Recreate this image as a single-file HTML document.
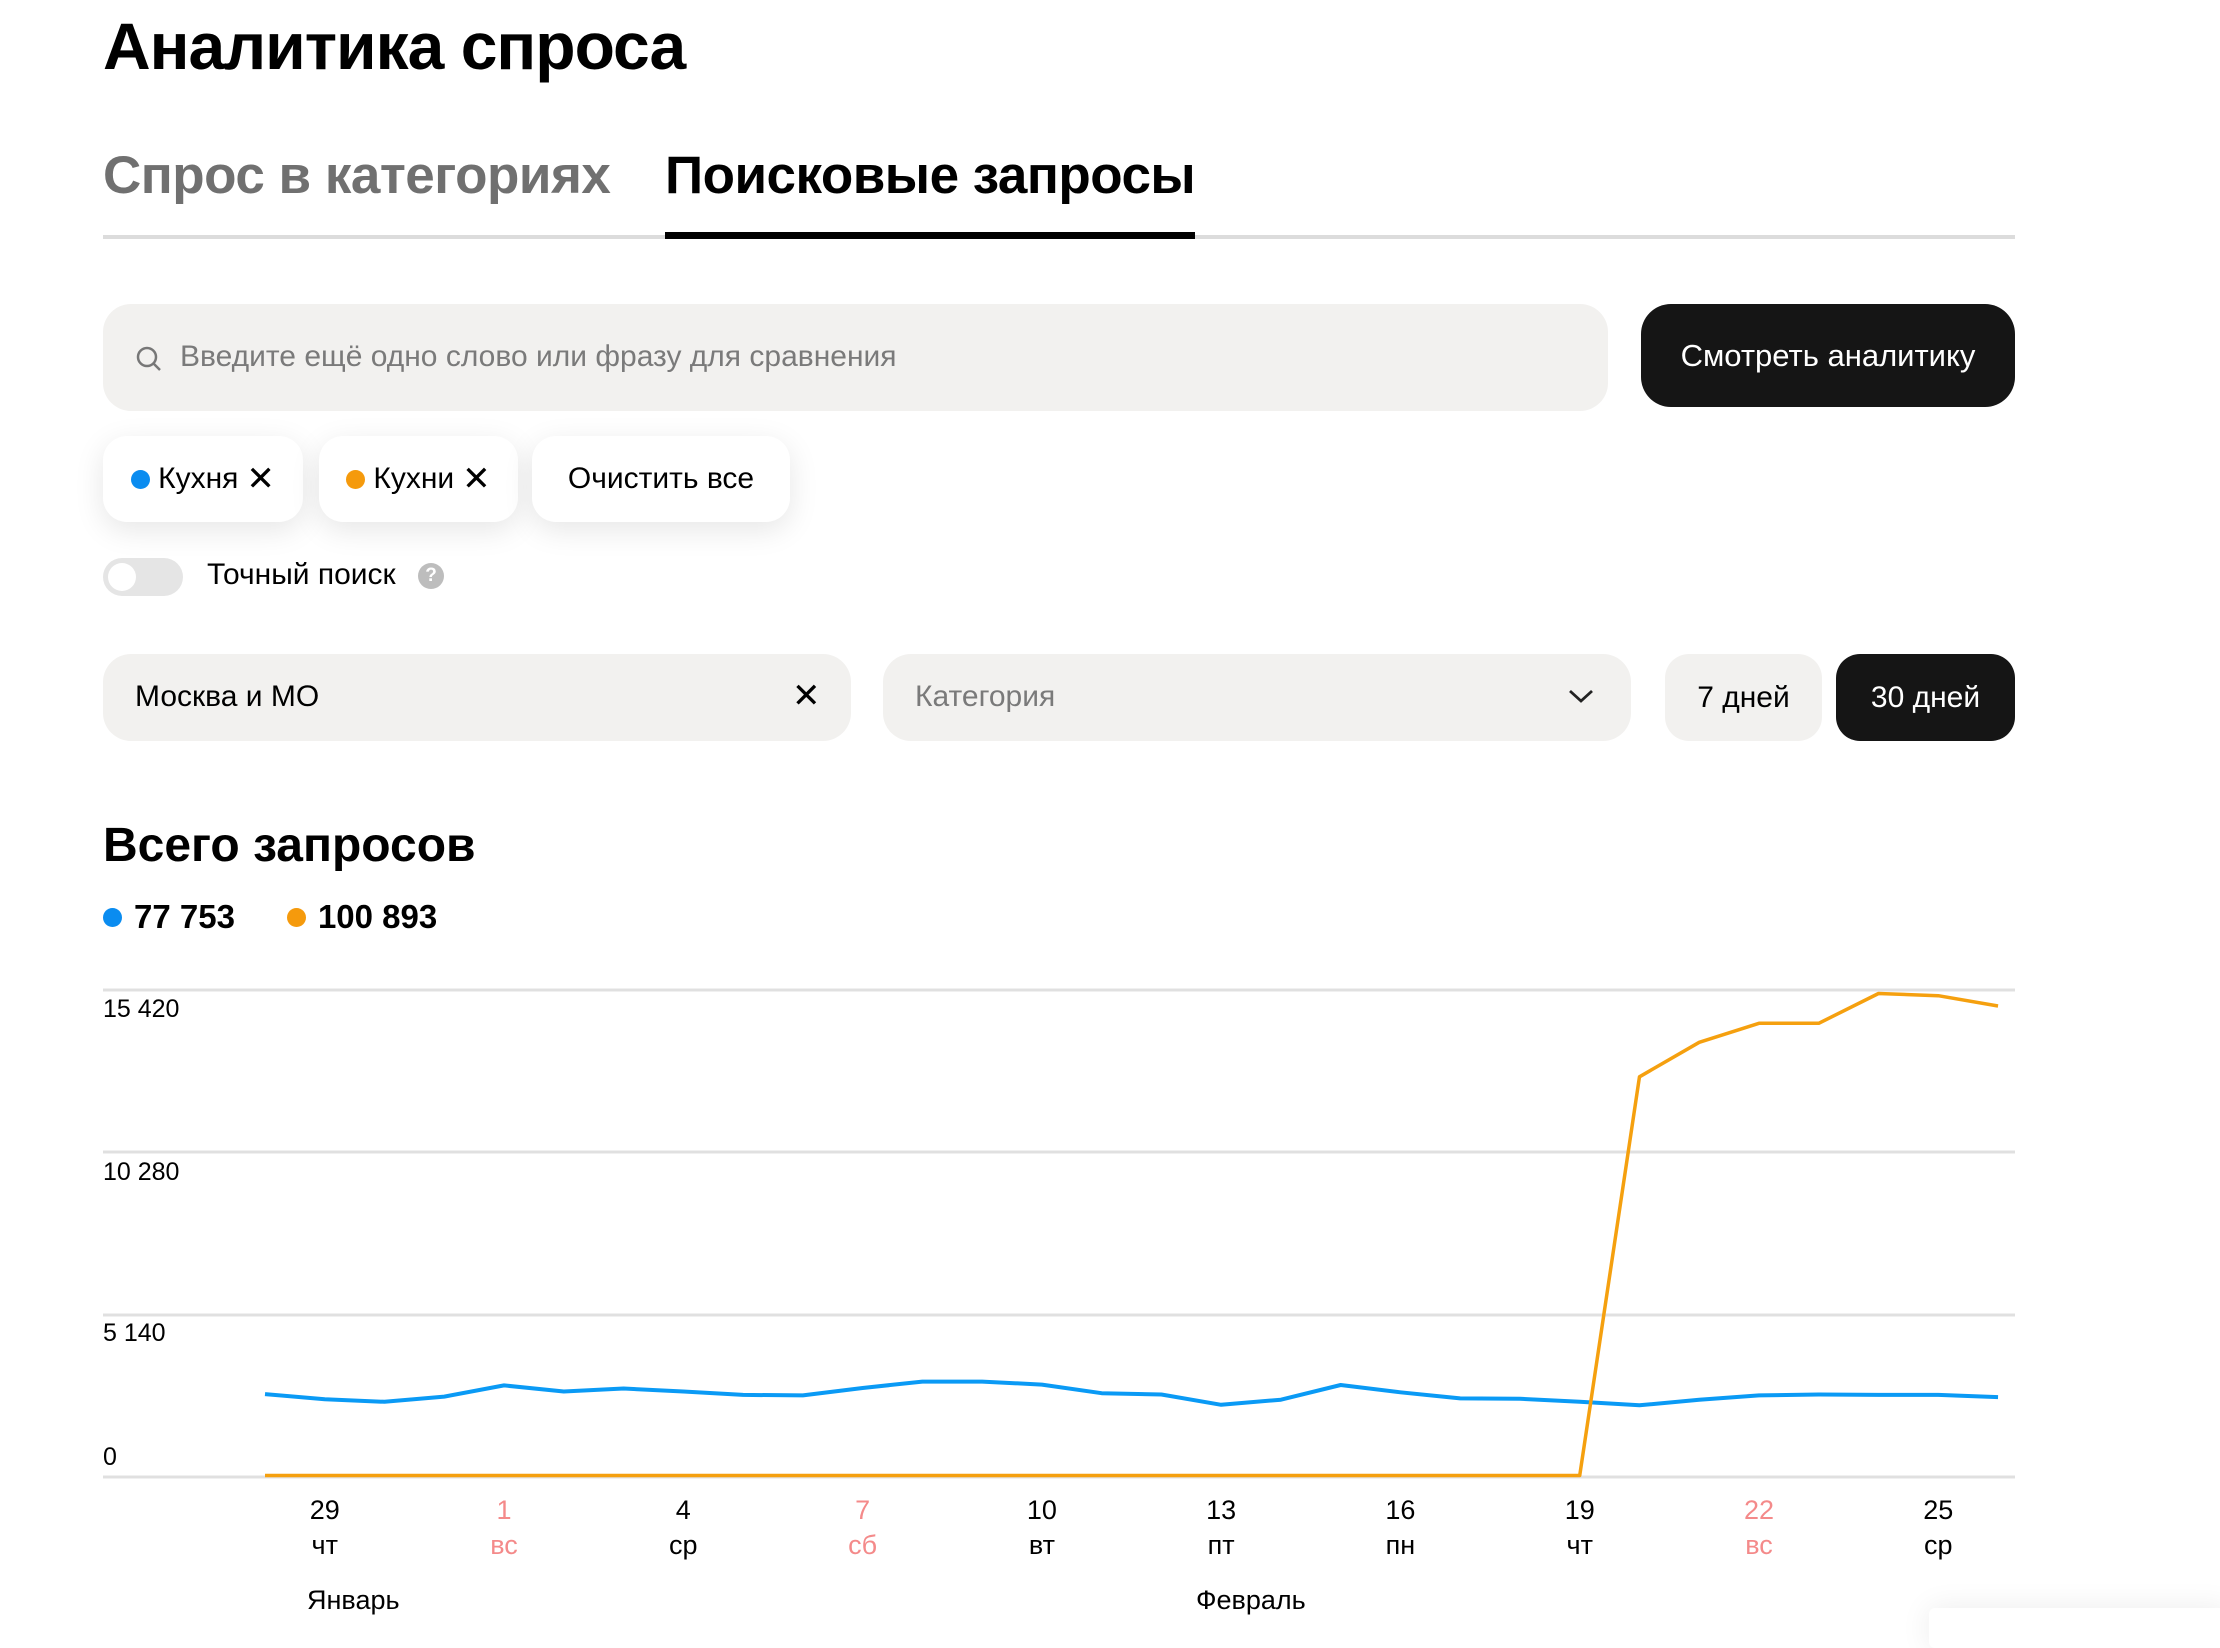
<!DOCTYPE html>
<html><head><meta charset="utf-8"><style>
*{margin:0;padding:0;box-sizing:border-box}
body{width:2220px;height:1626px;background:#fff;position:relative;overflow:hidden;font-family:"Liberation Sans","DejaVu Sans",sans-serif;color:#000}
.a{position:absolute;white-space:nowrap}
.box{position:absolute;background:#f2f1ef;border-radius:28px}
.chip{position:absolute;background:#fff;border-radius:24px;box-shadow:0 8px 30px rgba(0,0,0,0.10);font-size:30px;display:flex;align-items:center;justify-content:center;gap:8px}
.dot{display:inline-block;width:19px;height:19px;border-radius:50%}
</style></head><body>
<div class="a" style="left:103px;top:8px;font-size:66px;font-weight:bold;letter-spacing:-1px">Аналитика спроса</div>
<div class="a" style="left:103px;top:145px;font-size:53px;font-weight:bold;color:#707070;letter-spacing:-0.5px">Спрос в категориях</div>
<div class="a" style="left:665px;top:145px;font-size:53px;font-weight:bold;letter-spacing:-0.5px">Поисковые запросы</div>
<div class="a" style="left:103px;top:235px;width:1912px;height:4px;background:#dcdcdc"></div>
<div class="a" style="left:665px;top:232px;width:530px;height:7px;background:#000"></div>

<div class="box" style="left:103px;top:304px;width:1505px;height:107px"></div>
<svg class="a" style="left:135px;top:345px" width="28" height="28" viewBox="0 0 28 28"><circle cx="12" cy="12" r="9" fill="none" stroke="#777" stroke-width="2.5"/><line x1="18.5" y1="18.5" x2="25" y2="25" stroke="#777" stroke-width="2.5"/></svg>
<div class="a" style="left:180px;top:340px;font-size:30px;color:#7a7a7a">Введите ещё одно слово или фразу для сравнения</div>
<div class="a" style="left:1641px;top:304px;width:374px;height:103px;background:#151515;border-radius:30px;color:#fff;font-size:31px;display:flex;align-items:center;justify-content:center">Смотреть аналитику</div>

<div class="chip" style="left:103px;top:436px;width:200px;height:86px"><span class="dot" style="background:#0a8cf0"></span>Кухня <span style="font-size:34px">✕</span></div>
<div class="chip" style="left:319px;top:436px;width:199px;height:86px"><span class="dot" style="background:#f59a0c"></span>Кухни <span style="font-size:34px">✕</span></div>
<div class="chip" style="left:532px;top:436px;width:258px;height:86px">Очистить все</div>

<div class="a" style="left:103px;top:558px;width:80px;height:38px;border-radius:19px;background:#e5e5e5"></div>
<div class="a" style="left:108px;top:563px;width:28px;height:28px;border-radius:50%;background:#fff"></div>
<div class="a" style="left:207px;top:558px;font-size:30px">Точный поиск</div>
<div class="a" style="left:418px;top:563px;width:26px;height:26px;border-radius:50%;background:#bdbdbd;color:#fff;font-size:19px;font-weight:bold;text-align:center;line-height:26px">?</div>

<div class="box" style="left:103px;top:654px;width:748px;height:87px"></div>
<div class="a" style="left:135px;top:680px;font-size:30px">Москва и МО</div>
<div class="a" style="left:792px;top:676px;font-size:34px">✕</div>
<div class="box" style="left:883px;top:654px;width:748px;height:87px"></div>
<div class="a" style="left:915px;top:680px;font-size:30px;color:#7a7a7a">Категория</div>
<svg class="a" style="left:1567px;top:686px" width="28" height="20"><polyline points="3,5 14,15 25,5" fill="none" stroke="#222" stroke-width="2.8"/></svg>
<div class="box" style="left:1665px;top:654px;width:157px;height:87px;border-radius:24px;font-size:30px;display:flex;align-items:center;justify-content:center">7 дней</div>
<div class="a" style="left:1836px;top:654px;width:179px;height:87px;border-radius:24px;background:#151515;color:#fff;font-size:30px;display:flex;align-items:center;justify-content:center">30 дней</div>

<div class="a" style="left:103px;top:818px;font-size:48px;font-weight:bold">Всего запросов</div>
<div class="a" style="left:103px;top:898px;font-size:33px;font-weight:bold;display:flex;align-items:center;gap:12px"><span class="dot" style="background:#0a8cf0"></span>77 753<span style="width:28px"></span><span class="dot" style="background:#f59a0c"></span>100 893</div>

<svg class="a" style="left:0;top:0" width="2220" height="1626" id="ch">
<g stroke="#e0e0e0" stroke-width="3">
<line x1="103" y1="990" x2="2015" y2="990"/><line x1="103" y1="1152" x2="2015" y2="1152"/><line x1="103" y1="1315" x2="2015" y2="1315"/><line x1="103" y1="1477" x2="2015" y2="1477"/>
</g>
<g font-family="Liberation Sans,sans-serif" font-size="25" fill="#000">
<text x="103" y="1017">15 420</text><text x="103" y="1180">10 280</text><text x="103" y="1341">5 140</text><text x="103" y="1465">0</text>
</g>
<polyline id="bl" fill="none" stroke="#0a9af5" stroke-width="4" stroke-linejoin="round"/>
<polyline id="or" fill="none" stroke="#f5a00f" stroke-width="3.5" stroke-linejoin="round"/>
<g id="xl" font-family="Liberation Sans,sans-serif" font-size="27" text-anchor="middle"></g>
<text x="307" y="1609" font-family="Liberation Sans,sans-serif" font-size="27">Январь</text>
<text x="1196" y="1609" font-family="Liberation Sans,sans-serif" font-size="27">Февраль</text>
</svg>
<div class="a" style="left:1929px;top:1608px;width:300px;height:40px;background:#fff;box-shadow:0 0 30px rgba(0,0,0,0.08);border-radius:6px"></div>
<script>
var b=[1394.1,1399.2,1401.8,1396.6,1385.4,1391.5,1388.5,1391.5,1394.9,1395.4,1388.0,1381.6,1381.6,1384.6,1393.2,1394.5,1404.8,1399.7,1385.0,1392.3,1398.4,1398.8,1401.8,1405.3,1399.7,1395.4,1394.5,1394.9,1394.9,1397.1];
var o=[];for(var i=0;i<23;i++)o.push(1475.5);o.push(1076.8,1042.3,1023.3,1023.3,993.5,995.7,1006);
function X(i){return 265+i*59.76}
document.getElementById('bl').setAttribute('points',b.map(function(y,i){return X(i)+','+y}).join(' '));
document.getElementById('or').setAttribute('points',o.map(function(y,i){return X(i)+','+y}).join(' '));
var d=['29','1','4','7','10','13','16','19','22','25'],w=['чт','вс','ср','сб','вт','пт','пн','чт','вс','ср'],red=[1,3,8];
var g=document.getElementById('xl'),h='';
for(var k=0;k<10;k++){var x=X(1+3*k),c=red.indexOf(k)>=0?'#f48a8a':'#000';
h+='<text x="'+x+'" y="1519" fill="'+c+'">'+d[k]+'</text><text x="'+x+'" y="1554" fill="'+c+'">'+w[k]+'</text>';}
g.innerHTML=h;
</script>
</body></html>
